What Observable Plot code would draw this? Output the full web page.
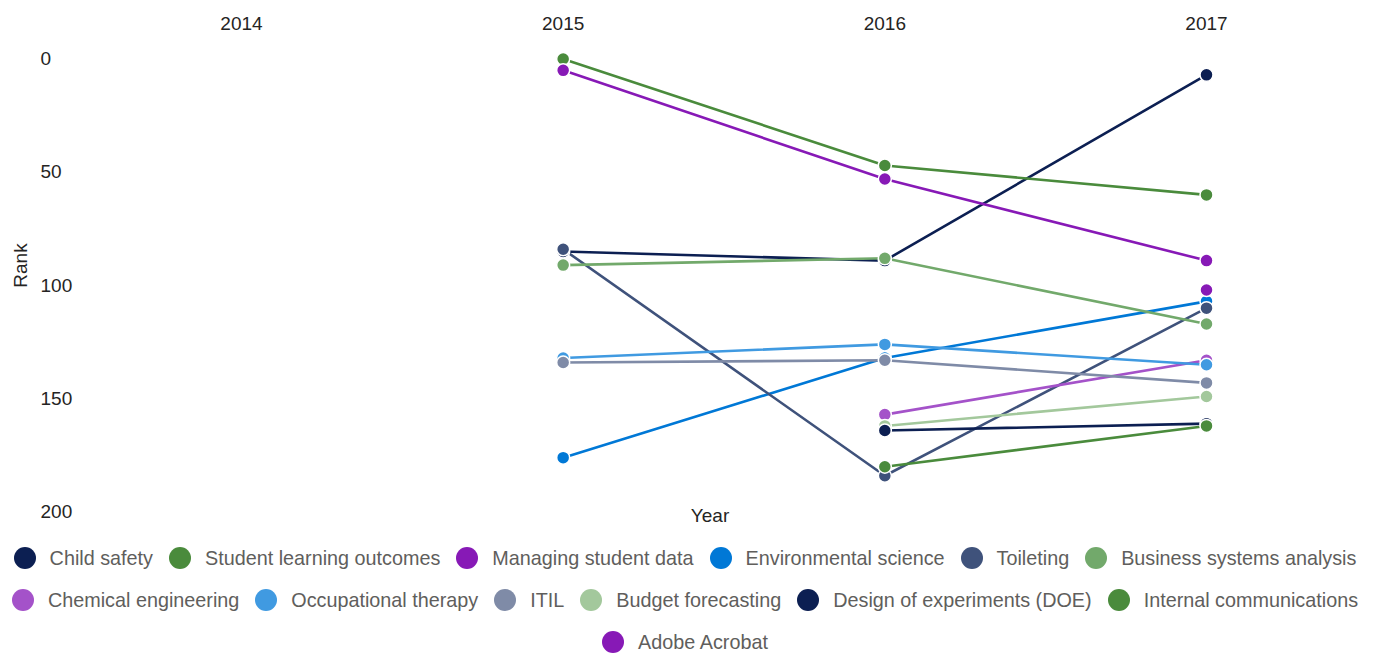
<!DOCTYPE html>
<html>
<head>
<meta charset="utf-8">
<script src="https://cdn.jsdelivr.net/npm/d3@7"></script>
<script src="https://cdn.jsdelivr.net/npm/@observablehq/plot@0.6"></script>
<style>
  body { margin: 0; background: #fff; font-family: "Liberation Sans", Arial, sans-serif; }
  #chart svg { display: block; }
  #legend { width: 1374px; display: flex; flex-wrap: wrap; justify-content: center; padding-top: 2px; padding-left: 6px; }
  .item { display: inline-flex; align-items: center; height: 42px; padding-right: 16px; font-size: 19.8px; color: #605e5c; white-space: nowrap; }
  .sw { width: 22px; height: 22px; border-radius: 50%; margin-right: 14px; flex: none; }
</style>
</head>
<body>
<div id="chart"></div>
<div id="legend"></div>
<script>
const years = [2014, 2015, 2016, 2017];
const seriesNames = [
  "Child safety", "Student learning outcomes", "Managing student data", "Environmental science",
  "Toileting", "Business systems analysis", "Chemical engineering", "Occupational therapy",
  "ITIL", "Budget forecasting", "Design of experiments (DOE)", "Internal communications", "Adobe Acrobat"
];
const seriesColors = [
  "#0c1f52", "#4a8b3c", "#8719b6", "#0078d6",
  "#3f527b", "#72a96b", "#a452c9", "#409ae1",
  "#7f8ba7", "#a3c89c", "#0c1f52", "#4a8b3c", "#8719b6"
];
// rank per series (same order as seriesNames), one array per year
const rank2014 = [null, null, null, null, null, null, null, null, null, null, null, null, null];
const rank2015 = [85, 0, 5, 176, 84, 91, null, 132, 134, null, null, null, null];
const rank2016 = [89, 47, 53, 132, 184, 88, 157, 126, 133, 162, 164, 180, null];
const rank2017 = [7, 60, 89, 107, 110, 117, 133, 135, 143, 149, 161, 162, 102];
const yTicks = [0, 50, 100, 150, 200];

const byYear = [rank2014, rank2015, rank2016, rank2017];
const data = [];
seriesNames.forEach((s, i) => {
  years.forEach((yr, j) => {
    const v = byYear[j][i];
    if (v != null) data.push({series: s, year: yr, rank: v, order: i});
  });
});

const font = "'Liberation Sans', Arial, sans-serif";
const plot = Plot.plot({
  width: 1380,
  height: 535,
  marginLeft: 241,
  marginRight: 174,
  marginTop: 58.5,
  marginBottom: 23.5,
  style: {fontFamily: font, fontSize: "19px", color: "#252423", background: "#fff"},
  x: {domain: [2014, 2017], axis: null},
  y: {domain: [0, 200], reverse: true, axis: null},
  color: {domain: seriesNames, range: seriesColors},
  marks: [
    Plot.axisX({anchor: "top", ticks: years, tickFormat: d3.format("d"), tickSize: 0, tickPadding: 29, label: null, fill: "#252423"}),
    Plot.axisY({anchor: "left", ticks: yTicks, tickSize: 0, tickPadding: 201, textAnchor: "start", label: null, fill: "#252423"}),
    Plot.text(["Rank"], {frameAnchor: "left", dx: -221, dy: -20, rotate: -90, textAnchor: "middle", lineAnchor: "middle", fill: "#252423", fontSize: 19}),
    Plot.text(["Year"], {frameAnchor: "bottom", dx: -14, dy: 3.5, lineAnchor: "middle", fill: "#252423", fontSize: 19}),
    Plot.line(data, {x: "year", y: "rank", z: "series", stroke: "series", strokeWidth: 2.6}),
    Plot.dot(data, {x: "year", y: "rank", fill: "series", r: 6.5, stroke: "#fff", strokeWidth: 1.5})
  ]
});
document.getElementById("chart").appendChild(plot);

const legend = document.getElementById("legend");
seriesNames.forEach((s, i) => {
  const item = document.createElement("div");
  item.className = "item";
  const sw = document.createElement("span");
  sw.className = "sw";
  sw.style.background = seriesColors[i];
  const t = document.createElement("span");
  t.textContent = s;
  item.appendChild(sw);
  item.appendChild(t);
  legend.appendChild(item);
});
</script>
</body>
</html>
